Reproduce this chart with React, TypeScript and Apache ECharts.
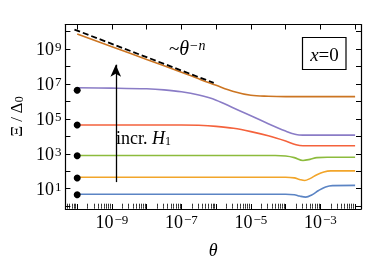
import React, { useEffect, useRef } from "react";
import * as echarts from "echarts";

// log10(theta) and log10(Xi/Delta0)
const topLogTheta = [-10, -9, -8, -7, -6.5, -6, -5.5, -5, -4.5, -4, -3, -2];
const topLogXi = [9.86, 9.13, 8.4, 7.67, 7.29, 6.92, 6.57, 6.35, 6.29, 6.27, 6.27, 6.27];

const purpleLogTheta = [-10, -9, -8, -7.5, -7, -6.5, -6, -5.5, -5, -4.5, -4, -3.7, -3.5, -3, -2];
const purpleLogXi = [6.78, 6.76, 6.72, 6.66, 6.55, 6.36, 6.07, 5.62, 5.18, 4.72, 4.3, 4.1, 4.07, 4.07, 4.07];

const redLogTheta = [-10, -7, -6.5, -6, -5.5, -5, -4.5, -4, -3.7, -3.5, -3, -2];
const redLogXi = [4.65, 4.65, 4.63, 4.57, 4.46, 4.27, 4.03, 3.73, 3.52, 3.46, 3.46, 3.46];

const greenLogTheta = [-10, -4.3, -4, -3.75, -3.5, -3.3, -3.1, -2.8, -2];
const greenLogXi = [2.9, 2.9, 2.87, 2.78, 2.62, 2.68, 2.78, 2.8, 2.8];

const orangeLogTheta = [-10, -4, -3.75, -3.6, -3.45, -3.3, -3.1, -2.9, -2.7, -2];
const orangeLogXi = [1.66, 1.66, 1.62, 1.53, 1.47, 1.58, 1.8, 1.96, 2.02, 2.02];

const blueLogTheta = [-10, -4, -3.75, -3.6, -3.42, -3.25, -3.05, -2.85, -2.65, -2];
const blueLogXi = [0.68, 0.68, 0.66, 0.58, 0.52, 0.64, 0.9, 1.1, 1.18, 1.19];

const dotLogTheta = -10;
const dotLogXi = [0.66, 1.61, 2.89, 4.65, 6.64];

const guideLogTheta = [-10.08, -6.07];
const guideLogXi = [10.11, 7.06];

const arrowLogTheta = -8.89;
const arrowLogXi = [1.38, 8.1];

const xMajorTicks = [-10, -9, -8, -7, -6, -5, -4, -3, -2];
const xTickLabels = [-9, -7, -5, -3];
const yMajorTicks = [0, 1, 2, 3, 4, 5, 6, 7, 8, 9, 10];
const yTickLabels = [1, 3, 5, 7, 9];

const X_MIN = -10.34;
const X_MAX = -1.83;
const Y_MIN = -0.16;
const Y_MAX = 10.4;

const SERIF = "'Liberation Serif', 'DejaVu Serif', serif";

function minorTicks(): number[] {
  const out: number[] = [];
  for (let d = -11; d <= -2; d++) {
    for (let k = 2; k <= 9; k++) {
      const v = d + Math.log10(k);
      if (v > X_MIN && v < X_MAX) out.push(v);
    }
  }
  return out;
}

function zip(xs: number[], ys: number[]) {
  return xs.map((x, i) => [x, ys[i]]);
}

export default function App() {
  const ref = useRef<HTMLDivElement>(null);
  useEffect(() => {
    if (!ref.current) return;
    const chart = echarts.init(ref.current, undefined, { renderer: "svg" });
    const axisLine = { show: true, onZero: false, lineStyle: { color: "#000", width: 1.2 } };
    const rich = {
      b: { fontFamily: SERIF, fontSize: 18, color: "#000", verticalAlign: "bottom" as const },
      s: { fontFamily: SERIF, fontSize: 13, color: "#000", verticalAlign: "top" as const, padding: [0, 0, 0, 1] },
    };
    const fmt = (v: number) => {
      const n = Math.round(v);
      return `{b|10}{s|${n < 0 ? "\u2212" + Math.abs(n) : n}}`;
    };
    const minor = minorTicks();
    const xBase = { type: "value" as const, min: X_MIN, max: X_MAX, splitLine: { show: false } };
    const yBase = { type: "value" as const, min: Y_MIN, max: Y_MAX, splitLine: { show: false } };
    const line = (xs: number[], ys: number[], color: string) => ({
      type: "line",
      data: zip(xs, ys),
      showSymbol: false,
      smooth: 0.35,
      lineStyle: { color, width: 1.6 },
      silent: true,
    });
    chart.setOption({
      animation: false,
      grid: { left: 57.5, right: 5, top: 24.5, bottom: 53.5 },
      xAxis: [
        {
          ...xBase,
          position: "bottom",
          axisLine,
          axisTick: { show: true, inside: true, length: 5, customValues: xMajorTicks, lineStyle: { color: "#000", width: 1 } },
          axisLabel: { customValues: xTickLabels, formatter: fmt, rich, margin: 4 },
          name: "\u03b8",
          nameLocation: "middle",
          nameGap: 32,
          nameTextStyle: { fontFamily: SERIF, fontStyle: "italic", fontSize: 18, color: "#000" },
        },
        {
          ...xBase,
          position: "bottom",
          axisLine: { show: false },
          axisTick: { show: true, inside: true, length: 2.5, customValues: minor, lineStyle: { color: "#000", width: 0.8 } },
          axisLabel: { show: false },
        },
        {
          ...xBase,
          position: "top",
          axisLine,
          axisTick: { show: true, inside: true, length: 5, customValues: xMajorTicks, lineStyle: { color: "#000", width: 1 } },
          axisLabel: { show: false },
        },
        {
          ...xBase,
          position: "top",
          axisLine: { show: false },
          axisTick: { show: true, inside: true, length: 2.5, customValues: minor, lineStyle: { color: "#000", width: 0.8 } },
          axisLabel: { show: false },
        },
      ],
      yAxis: [
        {
          ...yBase,
          position: "left",
          axisLine,
          axisTick: { show: true, inside: true, length: 5, customValues: yMajorTicks, lineStyle: { color: "#000", width: 1 } },
          axisLabel: { customValues: yTickLabels, formatter: fmt, rich, margin: 4 },
          name: "{a|\u039e / \u0394}{c|0}",
          nameLocation: "middle",
          nameRotate: 90,
          nameGap: 38,
          nameTextStyle: {
            fontFamily: SERIF,
            fontSize: 17,
            color: "#000",
            rich: {
              a: { fontFamily: SERIF, fontSize: 17, color: "#000", verticalAlign: "top" as const },
              c: { fontFamily: SERIF, fontSize: 12, color: "#000", verticalAlign: "bottom" as const },
            },
          },
        },
        {
          ...yBase,
          position: "right",
          axisLine,
          axisTick: { show: true, inside: true, length: 5, customValues: yMajorTicks, lineStyle: { color: "#000", width: 1 } },
          axisLabel: { show: false },
        },
      ],
      series: [
        line(blueLogTheta, blueLogXi, "#5b84c4"),
        line(orangeLogTheta, orangeLogXi, "#f2a52a"),
        line(greenLogTheta, greenLogXi, "#8cbb3c"),
        line(redLogTheta, redLogXi, "#f4623c"),
        line(purpleLogTheta, purpleLogXi, "#8a7cc6"),
        line(topLogTheta, topLogXi, "#cc7522"),
        {
          type: "line",
          data: zip(guideLogTheta, guideLogXi),
          showSymbol: false,
          lineStyle: { color: "#000", width: 1.8, type: [6, 3] },
          silent: true,
        },
        {
          type: "scatter",
          data: dotLogXi.map((v) => [dotLogTheta, v]),
          symbol: "circle",
          symbolSize: 7,
          itemStyle: { color: "#000", opacity: 1 },
          silent: true,
          z: 5,
          markLine: {
            silent: true,
            symbol: ["none", "arrow"],
            symbolSize: [8, 12],
            label: { show: false },
            lineStyle: { color: "#000", width: 1.3, type: "solid", opacity: 1 },
            data: [[{ coord: [arrowLogTheta, arrowLogXi[0]] }, { coord: [arrowLogTheta, arrowLogXi[1]] }]],
          },
        },
      ],
      graphic: [
        {
          type: "text",
          left: 169,
          top: 38,
          style: {
            text: "{a|~}{t|\u03b8}{s|\u2212n}",
            rich: {
              a: { fontFamily: SERIF, fontSize: 19, fill: "#000", verticalAlign: "bottom" },
              t: { fontFamily: SERIF, fontStyle: "italic", fontSize: 20, fill: "#000", verticalAlign: "bottom" },
              s: { fontFamily: SERIF, fontStyle: "italic", fontSize: 14, fill: "#000", verticalAlign: "top" },
            },
          },
        },
        {
          type: "text",
          left: 116,
          top: 129,
          style: {
            text: "{a|incr. }{h|H}{s|1}",
            rich: {
              a: { fontFamily: SERIF, fontSize: 18, fill: "#000", verticalAlign: "top" },
              h: { fontFamily: SERIF, fontStyle: "italic", fontSize: 18, fill: "#000", verticalAlign: "top" },
              s: { fontFamily: SERIF, fontSize: 12, fill: "#000", verticalAlign: "bottom" },
            },
          },
        },
        {
          type: "rect",
          shape: { x: 302.5, y: 37.5, width: 43.5, height: 32 },
          style: { fill: "#fff", stroke: "#000", lineWidth: 1.2 },
        },
        {
          type: "text",
          x: 324.5,
          y: 54,
          style: {
            text: "{x|x}{e|=0}",
            align: "center",
            verticalAlign: "middle",
            rich: {
              x: { fontFamily: SERIF, fontStyle: "italic", fontSize: 19, fill: "#000" },
              e: { fontFamily: SERIF, fontSize: 19, fill: "#000" },
            },
          },
        },
      ],
    });
    return () => chart.dispose();
  }, []);
  return <div ref={ref} style={{ position: "fixed", left: 0, top: 0, width: 366, height: 264 }} />;
}
